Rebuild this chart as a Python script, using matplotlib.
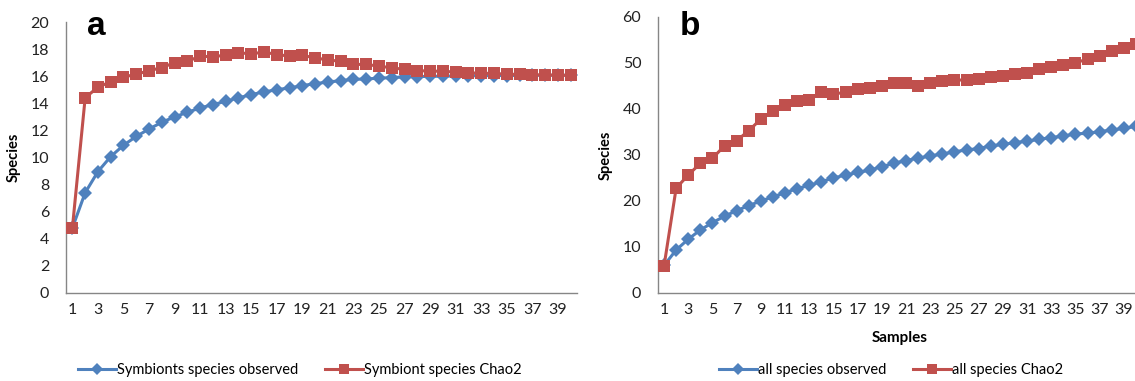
import matplotlib
matplotlib.use("Agg")
import matplotlib.pyplot as plt
import numpy as np

# ── data ───────────────────────────────────────────────────────────────────
samples = np.arange(1, 41)

symb_observed = [4.8, 7.4, 8.96, 10.07, 10.9, 11.56, 12.1, 12.6, 13.0, 13.33,
                 13.66, 13.9, 14.15, 14.4, 14.64, 14.84, 15.0, 15.14, 15.3, 15.46,
                 15.56, 15.68, 15.76, 15.8, 15.85, 15.9, 15.95, 15.97, 15.99, 16.0,
                 16.02, 16.03, 16.04, 16.05, 16.05, 16.06, 16.06, 16.07, 16.07, 16.07]
symb_chao2 = [4.8, 14.4, 15.2, 15.58, 15.93, 16.15, 16.4, 16.64, 16.99, 17.09,
              17.48, 17.43, 17.56, 17.73, 17.65, 17.78, 17.6, 17.48, 17.53, 17.36,
              17.19, 17.11, 16.87, 16.87, 16.74, 16.62, 16.5, 16.42, 16.37, 16.37,
              16.3, 16.25, 16.22, 16.2, 16.15, 16.13, 16.1, 16.1, 16.07, 16.07]

all_observed = [6.0, 9.35, 11.7, 13.7, 15.3, 16.7, 17.9, 19.0, 20.0, 20.9,
                21.8, 22.7, 23.4, 24.2, 25.0, 25.65, 26.2, 26.7, 27.46, 28.2,
                28.8, 29.3, 29.8, 30.2, 30.7, 31.1, 31.4, 31.96, 32.3, 32.7,
                33.0, 33.4, 33.8, 34.1, 34.6, 34.7, 35.1, 35.4, 35.8, 36.2]
all_chao2 = [5.87, 22.8, 25.65, 28.2, 29.3, 32.0, 33.1, 35.3, 37.8, 39.6,
             40.9, 41.7, 41.96, 43.6, 43.3, 43.6, 44.3, 44.6, 45.1, 45.6,
             45.6, 45.1, 45.6, 46.1, 46.3, 46.3, 46.5, 47.0, 47.2, 47.6,
             47.8, 48.7, 49.2, 49.6, 50.1, 50.8, 51.5, 52.7, 53.2, 54.1]

xtick_labels = [str(n) for n in range(1, 41, 2)]

BLUE = "#4F81BD"
RED = "#C0504D"
AXIS_GRAY = "#868686"

plt.rcParams["font.family"] = ["Lato", "DejaVu Sans"]

W, H = 1135, 381
fig = plt.figure(figsize=(W / 100, H / 100), dpi=100)


def style_panel(ax, ymax, ystep, letter, letter_x):
    ax.set_xlim(0.5, 40.5)
    ax.set_ylim(0, ymax)
    ax.set_yticks(np.arange(0, ymax + 1, ystep))
    ax.set_xticks(range(1, 41, 2))
    ax.set_xticklabels(xtick_labels)
    ax.tick_params(axis="both", length=0, labelsize=11.5, colors="#222222")
    ax.tick_params(axis="x", pad=7)
    ax.tick_params(axis="y", pad=12)
    for side in ("top", "right"):
        ax.spines[side].set_visible(False)
    for side in ("left", "bottom"):
        ax.spines[side].set_color(AXIS_GRAY)
        ax.spines[side].set_linewidth(1.0)
    ax.set_ylabel("Species", fontsize=10.5, fontweight="bold", labelpad=7)
    fig.text(letter_x / W, 1 - 35 / H, letter, fontsize=24,
             fontweight="bold", family="Liberation Sans",
             ha="center", va="baseline")


def draw(ax, obs, chao, lab_obs, lab_chao, legend_x):
    ax.plot(samples, obs, color=BLUE, lw=2.2, marker="D", ms=7.6,
            markeredgewidth=0, label=lab_obs, zorder=3)
    ax.plot(samples, chao, color=RED, lw=2.2, marker="s", ms=8.5,
            markeredgewidth=0, label=lab_chao, zorder=4)
    ax.legend(loc="center", bbox_to_anchor=(legend_x / W, 1 - 370 / H),
              bbox_transform=fig.transFigure, ncol=2, frameon=False,
              fontsize=10.5, handlelength=2.6, columnspacing=1.8,
              handletextpad=0.1, markerscale=0.8, borderpad=0)


# ── Panel a ────────────────────────────────────────────────────────────────
ax_a = fig.add_axes([66 / W, 88 / H, 511 / W, 271 / H])
draw(ax_a, symb_observed, symb_chao2,
     "Symbionts species observed", "Symbiont species Chao2", 300)
style_panel(ax_a, 20, 2, "a", 96)

# ── Panel b ────────────────────────────────────────────────────────────────
ax_b = fig.add_axes([658 / W, 88 / H, 484 / W, 276 / H])
draw(ax_b, all_observed, all_chao2,
     "all species observed", "all species Chao2", 891)
style_panel(ax_b, 60, 10, "b", 690)
ax_b.set_xlabel("Samples", fontsize=11, fontweight="bold", labelpad=10)

fig.savefig("out.png", dpi=100)
plt.close(fig)
